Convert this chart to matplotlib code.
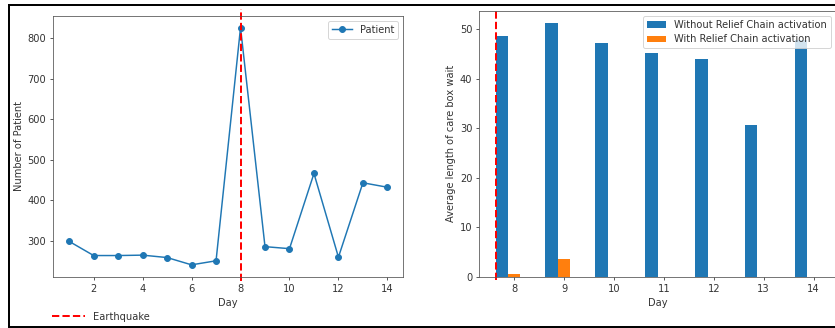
import numpy as np
import matplotlib
matplotlib.use('Agg')
import matplotlib.pyplot as plt
from matplotlib.lines import Line2D

# datos
days = np.arange(1, 15)
patients = [298, 263, 263, 264, 258, 240, 250, 827, 285, 280, 466, 259, 443, 432]

wait_days = np.arange(8, 15)
wait_without = [48.6, 51.2, 47.2, 45.3, 44.0, 30.7, 47.8]
wait_with = [0.5, 3.6, 0, 0, 0, 0, 0]

earthquake_day = 8

# la captura se ve algo borrosa: texto y ejes un poco grises
plt.rcParams['text.color'] = '#333333'
plt.rcParams['axes.labelcolor'] = '#333333'
plt.rcParams['xtick.color'] = '#333333'
plt.rcParams['ytick.color'] = '#333333'
plt.rcParams['axes.edgecolor'] = '#555555'

# dpi 71 para que todo quede a la escala de la captura
dpi = 71
fig = plt.figure(figsize=(835 / dpi, 328 / dpi), dpi=dpi)

# panel izquierdo: pacientes por dia
ax1 = fig.add_axes([0.0638, 0.1564, 0.4192, 0.7957])
ax1.plot(days, patients, marker='o', label='Patient')
eq = ax1.axvline(earthquake_day, color='r', linestyle='--', linewidth=2,
                 ymin=-0.015, ymax=1.025, clip_on=False, label='Earthquake')
ax1.set_xlabel('Day')
ax1.set_ylabel('Number of Patient')
ax1.set_xticks([2, 4, 6, 8, 10, 12, 14])
ax1.legend(handles=[ax1.lines[0]], loc='upper right')

# leyenda del terremoto, abajo a la izquierda
fig.legend(handles=[eq], labels=['Earthquake'], loc='lower left',
           bbox_to_anchor=(0.052, -0.008), frameon=False, handlelength=3.3)

# panel derecho: espera media
ax2 = fig.add_axes([0.574, 0.1564, 0.4272, 0.811])
width = 0.25
ax2.bar(wait_days - width, wait_without, width, label='Without Relief Chain activation')
ax2.bar(wait_days, wait_with, width, label='With Relief Chain activation')
ax2.axvline(7.625, color='r', linestyle='--', linewidth=2,
            ymin=-0.012, ymax=1.0, clip_on=False)
ax2.set_xticks(wait_days)
ax2.set_xlabel('Day')
ax2.set_ylabel('Average length of care box wait')
ax2.legend(loc='upper right')

# marco negro de la captura
lw = 2
y_top = 1 - 5 / 328
y_bot = 1.5 / 328
x_left = 9 / 835
for xs, ys in [([x_left, 1.01], [y_top, y_top]),
               ([x_left, 1.01], [y_bot, y_bot]),
               ([x_left, x_left], [y_bot, y_top])]:
    fig.add_artist(Line2D(xs, ys, color='black', linewidth=lw,
                          transform=fig.transFigure))

plt.savefig('out.png', dpi=dpi)
